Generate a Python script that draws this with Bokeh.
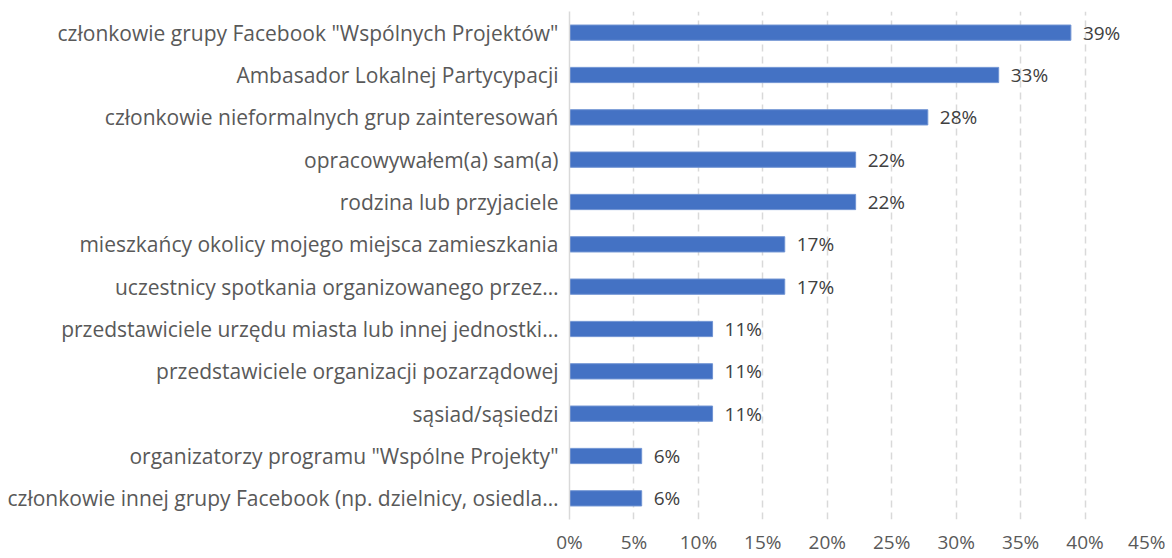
from bokeh.plotting import figure
from bokeh.models import ColumnDataSource, FactorRange, Range1d, FixedTicker, PrintfTickFormatter, LabelSet
from bokeh.core.properties import value
from bokeh.embed import file_html
from bokeh.resources import INLINE

categories = [
    'członkowie grupy Facebook "Wspólnych Projektów"',
    "Ambasador Lokalnej Partycypacji",
    "członkowie nieformalnych grup zainteresowań",
    "opracowywałem(a) sam(a)",
    "rodzina lub przyjaciele",
    "mieszkańcy okolicy mojego miejsca zamieszkania",
    "uczestnicy spotkania organizowanego przez…",
    "przedstawiciele urzędu miasta lub innej jednostki…",
    "przedstawiciele organizacji pozarządowej",
    "sąsiad/sąsiedzi",
    'organizatorzy programu "Wspólne Projekty"',
    "członkowie innej grupy Facebook (np. dzielnicy, osiedla…",
]
values = [38.9, 33.3, 27.8, 22.2, 22.2, 16.7, 16.7, 11.1, 11.1, 11.1, 5.6, 5.6]
value_labels = ["39%", "33%", "28%", "22%", "22%", "17%", "17%", "11%", "11%", "11%", "6%", "6%"]
x_ticks = [0, 5, 10, 15, 20, 25, 30, 35, 40, 45]

FONT = "Open Sans"
GRAY = "#595959"

src = ColumnDataSource(dict(cat=categories, val=values, lab=value_labels))

p = figure(
    y_range=FactorRange(factors=list(reversed(categories))),
    x_range=Range1d(0, 45),
    frame_width=580, frame_height=508,
    min_border_left=569, min_border_top=11, min_border_right=16, min_border_bottom=30,
    output_backend="svg", toolbar_location=None,
)
p.outline_line_color = None
p.background_fill_color = "white"
p.border_fill_color = "white"

p.hbar(y="cat", right="val", left=0, height=0.36, source=src,
       fill_color="#4472C4", line_color="#6f93d3", line_width=1)

labels = LabelSet(x="val", y="cat", text="lab", source=src, x_offset=12, y_offset=0,
                  text_baseline="middle", text_font=value(FONT), text_font_size="19px",
                  text_color="#404040")
p.add_layout(labels)

# x axis
p.xaxis.ticker = FixedTicker(ticks=x_ticks)
p.xaxis.formatter = PrintfTickFormatter(format="%d%%")
p.xaxis.axis_line_color = None
p.xaxis.major_tick_line_color = None
p.xaxis.minor_tick_line_color = None
p.xaxis.major_tick_out = 0
p.xaxis.major_label_standoff = 9
p.xaxis.major_label_text_font = FONT
p.xaxis.major_label_text_font_size = "19px"
p.xaxis.major_label_text_color = GRAY

# y axis
p.yaxis.axis_line_color = "#d9d9d9"
p.yaxis.axis_line_width = 1.5
p.yaxis.major_tick_line_color = None
p.yaxis.major_tick_out = 0
p.yaxis.major_label_standoff = 11
p.yaxis.major_label_text_font = FONT
p.yaxis.major_label_text_font_size = "21px"
p.yaxis.major_label_text_color = GRAY

p.xgrid.grid_line_color = "#d9d9d9"
p.xgrid.grid_line_dash = "7 5"
p.xgrid.grid_line_width = 1.5
p.ygrid.grid_line_color = None

open("out.html", "w").write(file_html(p, INLINE))
